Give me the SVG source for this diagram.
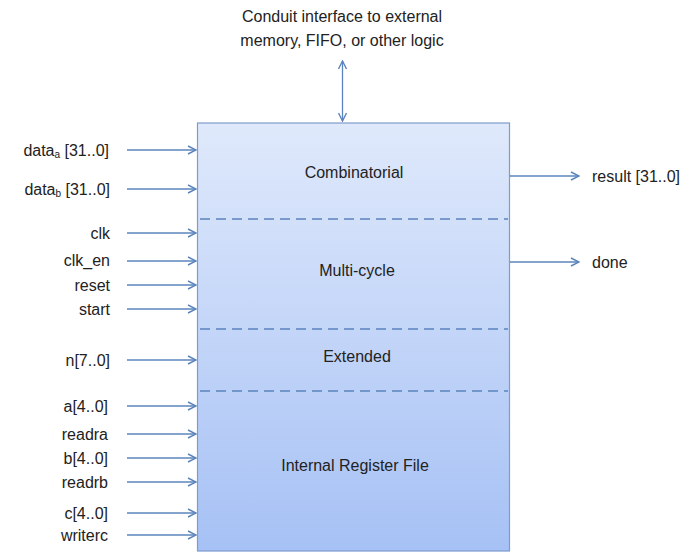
<svg xmlns="http://www.w3.org/2000/svg" width="697" height="553" viewBox="0 0 697 553">
  <defs>
    <linearGradient id="fill" x1="0" y1="0" x2="0" y2="1">
      <stop offset="0" stop-color="#dfe9fb"/>
      <stop offset="1" stop-color="#a6c1f5"/>
    </linearGradient>
    <marker id="head" viewBox="0 0 10 10" refX="9" refY="5" markerWidth="10" markerHeight="10" markerUnits="userSpaceOnUse" orient="auto-start-reverse">
      <path d="M1,1 L9,5 L1,9" fill="none" stroke="#5b84bd" stroke-width="1.4"/>
    </marker>
  </defs>
  <style>
    text { font-family: "Liberation Sans", "DejaVu Sans", sans-serif; font-size: 16px; fill: #222; }
    .lbl { text-anchor: end; }
    .mid { text-anchor: middle; }
    .sub { font-size: 10px; }
    .wire { stroke: #5b84bd; stroke-width: 1.3; fill: none; marker-end: url(#head); }
    .both { marker-start: url(#head); }
    .sep { stroke: #5b84bd; stroke-width: 1.3; stroke-dasharray: 10 6; }
  </style>
  <rect width="697" height="553" fill="#fff"/>

  <!-- custom instruction block -->
  <g id="block">
    <rect x="197.5" y="123" width="312" height="428" fill="url(#fill)" stroke="#7e9ccb" stroke-width="1.2"/>
    <line class="sep" x1="200" y1="219" x2="508" y2="219"/>
    <line class="sep" x1="200" y1="329" x2="508" y2="329"/>
    <line class="sep" x1="200" y1="391" x2="508" y2="391"/>
    <text class="mid" x="354" y="178">Combinatorial</text>
    <text class="mid" x="357" y="276">Multi-cycle</text>
    <text class="mid" x="357" y="362">Extended</text>
    <text class="mid" x="355" y="471">Internal Register File</text>
  </g>

  <g id="conduit">
    <text class="mid" x="342" y="22">Conduit interface to external</text>
    <text class="mid" x="342" y="46">memory, FIFO, or other logic</text>
  </g>

  <g id="inputs">
    <text class="lbl" x="109" y="156">data<tspan class="sub" dy="2">a</tspan><tspan dy="-2"> [31..0]</tspan></text>
    <text class="lbl" x="110" y="195">data<tspan class="sub" dy="2">b</tspan><tspan dy="-2"> [31..0]</tspan></text>
    <text class="lbl" x="110" y="239">clk</text>
    <text class="lbl" x="110" y="266">clk_en</text>
    <text class="lbl" x="110" y="291">reset</text>
    <text class="lbl" x="110" y="315">start</text>
    <text class="lbl" x="110" y="366">n[7..0]</text>
    <text class="lbl" x="108" y="412">a[4..0]</text>
    <text class="lbl" x="108" y="440">readra</text>
    <text class="lbl" x="108" y="464">b[4..0]</text>
    <text class="lbl" x="108" y="488">readrb</text>
    <text class="lbl" x="108" y="519">c[4..0]</text>
    <text class="lbl" x="108" y="541">writerc</text>
  </g>

  <g id="outputs">
    <text x="592" y="182">result [31..0]</text>
    <text x="592" y="268">done</text>
  </g>

  <g id="connectors">
    <line class="wire both" x1="342.5" y1="61" x2="342.5" y2="121"/>
    <line class="wire" x1="127" y1="150" x2="196" y2="150"/>
    <line class="wire" x1="127" y1="189" x2="196" y2="189"/>
    <line class="wire" x1="127" y1="233" x2="196" y2="233"/>
    <line class="wire" x1="127" y1="261" x2="196" y2="261"/>
    <line class="wire" x1="127" y1="285" x2="196" y2="285"/>
    <line class="wire" x1="127" y1="309" x2="196" y2="309"/>
    <line class="wire" x1="127" y1="360" x2="196" y2="360"/>
    <line class="wire" x1="127" y1="406" x2="196" y2="406"/>
    <line class="wire" x1="127" y1="434" x2="196" y2="434"/>
    <line class="wire" x1="127" y1="458" x2="196" y2="458"/>
    <line class="wire" x1="127" y1="482" x2="196" y2="482"/>
    <line class="wire" x1="127" y1="513" x2="196" y2="513"/>
    <line class="wire" x1="127" y1="535" x2="196" y2="535"/>
    <line class="wire" x1="510" y1="176" x2="579" y2="176"/>
    <line class="wire" x1="510" y1="262" x2="579" y2="262"/>
  </g>
</svg>
